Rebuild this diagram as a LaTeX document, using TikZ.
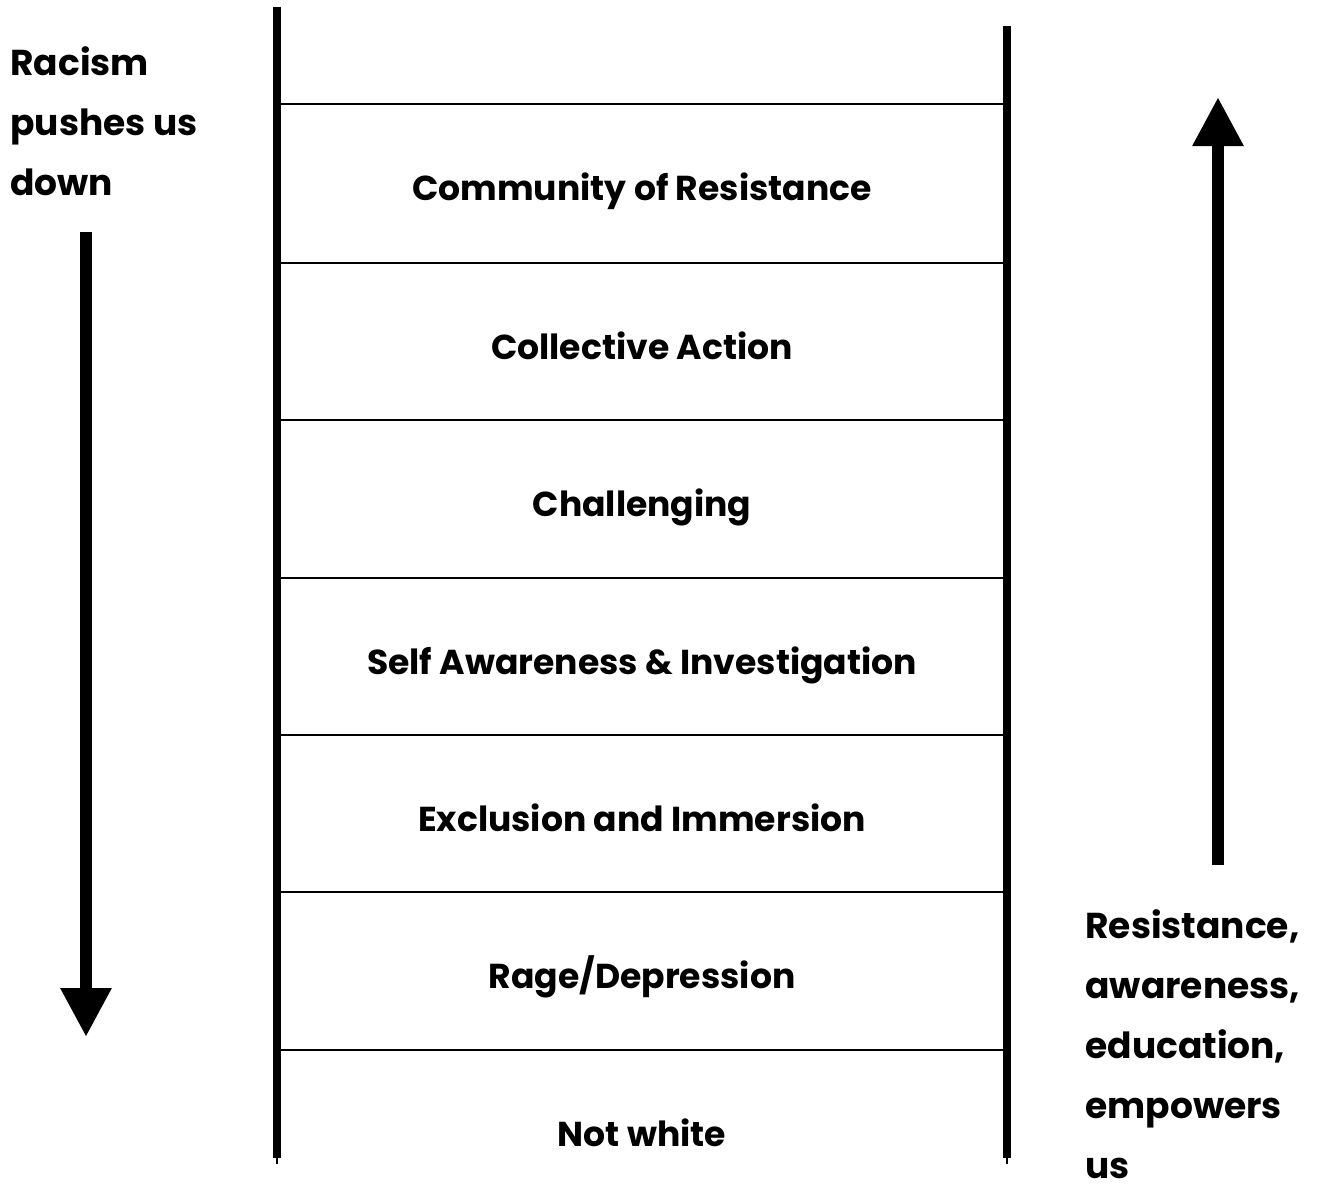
\documentclass[tikz,border=0pt]{standalone}
\usepackage{fontspec}
\setmainfont{Poppins}
\usetikzlibrary{arrows.meta}
\tikzset{
  rail/.style={line width=4pt},
  rungline/.style={line width=1pt},
  stagelbl/.style={font=\fontsize{17.3}{30}\selectfont\bfseries,inner sep=0pt,anchor=base},
  sidelbl/.style={font=\fontsize{18}{30}\selectfont\bfseries,align=left,inner sep=0pt,anchor=north west},
  bigarrow/.style={line width=6pt,-{Triangle[length=24.5pt,width=24pt]}}
}
\newcommand\rung[3]{\draw[rungline] (277,#1) -- (1007,#1); \node(#2)[stagelbl] at (642,#1+96) {#3};}

\begin{document}
\begin{tikzpicture}[x=0.5pt,y=-0.5pt]
    \useasboundingbox (0,0) rectangle (1328,1184);
    % ladder rails
    \coordinate (ltop) at (277,7);    \coordinate (lbot) at (277,1158);
    \coordinate (rtop) at (1007,26);  \coordinate (rbot) at (1007,1158);
    \draw[rail] (ltop) -- (lbot);
    \draw[rail] (rtop) -- (rbot);
    \draw[rungline] (lbot) -- ++(0,6);
    \draw[rungline] (rbot) -- ++(0,6);
    % rungs and stages
    \rung{104}{s6}{Community of Resistance}
    \rung{263}{s5}{Collective Action}
    \rung{420}{s4}{Challenging}
    \rung{578}{s3}{Self Awareness \& Investigation}
    \rung{735}{s2}{Exclusion and Immersion}
    \rung{892}{s1}{Rage/Depression}
    \rung{1050}{s0}{Not white}
    % side notes
    \node(down)[sidelbl] at (10,46) {Racism\\pushes us\\down};
    \node(up)[sidelbl] at (1085,909) {Resistance,\\awareness,\\education,\\empowers\\us};
    \coordinate (dstart) at (86,232);  \coordinate (dend) at (86,1037);
    \coordinate (ustart) at (1218,865); \coordinate (uend) at (1218,97);
    \draw[bigarrow] (dstart) -- (dend);
    \draw[bigarrow] (ustart) -- (uend);
\end{tikzpicture}
\end{document}
